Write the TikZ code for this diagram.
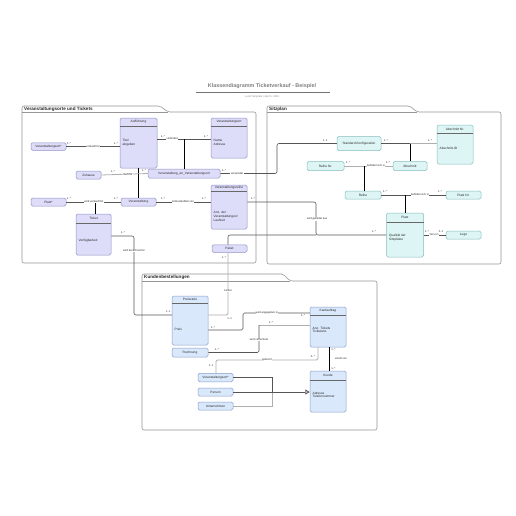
\documentclass[tikz,border=0pt]{standalone}
\usepackage{fontspec}
\setmainfont{Liberation Sans}
\usetikzlibrary{arrows.meta}
\definecolor{lavf}{RGB}{221,221,250}
\definecolor{lavd}{RGB}{145,145,195}
\definecolor{cyf}{RGB}{221,245,245}
\definecolor{cyd}{RGB}{135,190,190}
\definecolor{blf}{RGB}{218,232,252}
\definecolor{bld}{RGB}{135,160,200}
\definecolor{pan}{RGB}{150,150,150}
\definecolor{cdark}{RGB}{85,85,85}
\definecolor{clight}{RGB}{175,175,175}
\definecolor{txt}{RGB}{40,40,40}
\newcommand{\fnode}{\fontsize{3.2}{3.9}\selectfont}
\newcommand{\flab}{\fontsize{2.7}{3.2}\selectfont}
\begin{document}
\begin{tikzpicture}[x=1pt,y=-1pt,
  lcls/.style={draw=lavd,fill=lavf,rounded corners=1.5,line width=0.5,inner sep=0,font=\fnode,text=txt},
  ccls/.style={draw=cyd,fill=cyf,rounded corners=1.5,line width=0.5,inner sep=0,font=\fnode,text=txt},
  bcls/.style={draw=bld,fill=blf,rounded corners=1.5,line width=0.5,inner sep=0,font=\fnode,text=txt},
  ctitle/.style={font=\fnode,text=txt,inner sep=0},
  attr/.style={font=\fnode,text=txt,inner sep=0,anchor=north west,align=left},
  sepl/.style={line width=0.7,draw=txt!70},
  conn/.style={draw=cdark,line width=0.6},
  connl/.style={draw=clight,line width=1.1},
  stem/.style={draw=black,line width=0.9},
  lab/.style={font=\flab,text=txt,fill=white,inner sep=0.4},
  mult/.style={font=\flab,text=txt,inner sep=0},
  panel/.style={draw=pan,fill=white,line width=0.6,rounded corners=2},
  ptitle/.style={font=\fontsize{4.6}{5}\selectfont\bfseries,text=txt,anchor=west,inner sep=0}
]
\useasboundingbox[fill=white] (0,0) rectangle (516,516);

% title
\node[font=\fontsize{5.4}{6}\selectfont\bfseries,text=black!50,inner sep=0] (title) at (262,86.5) {Klassendiagramm Ticketverkauf - Beispiel};
\draw[draw=black!55,line width=0.5] (196,92) -- (330,92);
\node[font=\fontsize{2.6}{3}\selectfont,text=black!45,inner sep=0] (sub) at (262,96.5) {Lucid Template \textbar{} April 6, 2018};

% panels
\draw[panel] (22,112) -- (22,106) -- (160,106) -- (168,112) -- (256,112) -- (256,263) -- (22,263) -- cycle;
\draw[pan,line width=0.6] (22,112) -- (168,112);
\node[ptitle] (p1) at (24,109) {Veranstaltungsorte und Tickets};

\draw[panel] (267,112) -- (267,106) -- (410,106) -- (417,112) -- (501,112) -- (501,264) -- (267,264) -- cycle;
\draw[pan,line width=0.6] (267,112) -- (417,112);
\node[ptitle] (p2) at (269,109) {Sitzplan};

\draw[panel] (142,281) -- (142,274) -- (283,274) -- (290,281) -- (377,281) -- (377,430) -- (142,430) -- cycle;
\draw[pan,line width=0.6] (142,281) -- (290,281);
\node[ptitle] (p3) at (144,277.5) {Kundenbestellungen};

% ---------- left panel nodes
\node[lcls,minimum width=37,minimum height=50] (auff) at (138.5,143) {};
\node[ctitle] (auff-t) at (138.5,122) {Aufführung};
\draw[sepl] (120,126) -- (157,126);
\node[attr] (auff-a) at (122.5,139) {Titel\\abgeben};

\node[lcls,minimum width=36,minimum height=40] (vort) at (229,138) {};
\node[ctitle] (vort-t) at (229,122) {Veranstaltungsort};
\draw[sepl] (211,126) -- (247,126);
\node[attr] (vort-a) at (213.5,139) {Name\\Adresse};

\node[lcls,minimum width=35,minimum height=7.5] (vos) at (48.5,146.5) {Veranstaltungsort*};
\node[lcls,minimum width=25,minimum height=8] (zuh) at (88.5,175) {Zuhause};
\node[lcls,minimum width=72,minimum height=9] (vav) at (184,173.5) {Veranstaltung\_an\_Veranstaltungsort};
\node[lcls,minimum width=35,minimum height=8] (veran) at (138.5,202) {Veranstaltung};
\node[lcls,minimum width=35,minimum height=8] (platzs) at (48.5,202) {Platz*};

\node[lcls,minimum width=35,minimum height=41] (ticket) at (93.5,234.5) {};
\node[ctitle] (ticket-t) at (93.5,218.5) {Ticket};
\draw[sepl] (76,223) -- (111,223);
\node[attr] (ticket-a) at (78.5,238.5) {Verfügbarkeit};

\node[lcls,minimum width=36,minimum height=44] (vreihe) at (229,207) {};
\node[ctitle] (vreihe-t) at (229,188) {Veranstaltungsreihe};
\draw[sepl] (211,191.5) -- (247,191.5);
\node[attr] (vreihe-a) at (213.5,211) {Anz. der\\Veranstaltungen/\\Laufzeit};

\node[lcls,minimum width=35,minimum height=7.5] (paket) at (229.5,248.5) {Paket};

% ---------- right panel nodes
\node[ccls,minimum width=44,minimum height=14] (stdk) at (359,143.5) {Standard-Konfiguration};
\node[ccls,minimum width=36,minimum height=39] (abnr) at (455,144.5) {};
\node[ctitle] (abnr-t) at (455,129) {Abschnitt Nr.};
\draw[sepl] (437,133) -- (473,133);
\node[attr] (abnr-a) at (439.5,146.5) {Abschnitt-ID};
\node[ccls,minimum width=37,minimum height=9] (reihenr) at (325.5,166) {Reihe Nr.};
\node[ccls,minimum width=34,minimum height=9] (absch) at (410,166) {Abschnitt};
\node[ccls,minimum width=36,minimum height=8] (reihe) at (363,195) {Reihe};
\node[ccls,minimum width=35,minimum height=8] (platznr) at (463.5,195) {Platz Nr.};
\node[ccls,minimum width=37,minimum height=44] (platz) at (405,235) {};
\node[ctitle] (platz-t) at (405,217.5) {Platz};
\draw[sepl] (386.5,222) -- (423.5,222);
\node[attr] (platz-a) at (389,234) {Qualität der\\Sitzplätze};
\node[ccls,minimum width=35,minimum height=8] (loge) at (463.5,235) {Loge};

% ---------- bottom panel nodes
\node[bcls,minimum width=36,minimum height=49] (preis) at (190,320.5) {};
\node[ctitle] (preis-t) at (190,299.5) {Preisstufe};
\draw[sepl] (172,303) -- (208,303);
\node[attr] (preis-a) at (174.5,327.5) {Preis};

\node[bcls,minimum width=36,minimum height=40] (kauf) at (328,327) {};
\node[ctitle] (kauf-t) at (328,311) {Kaufauftrag};
\draw[sepl] (310,315) -- (346,315);
\node[attr] (kauf-a) at (312.5,326.5) {Anz. Tickets\\Ticketanz.};

\node[bcls,minimum width=36,minimum height=9] (rech) at (190,352.5) {Rechnung};

\node[bcls,minimum width=36,minimum height=41] (kunde) at (328,391.5) {};
\node[ctitle] (kunde-t) at (328,375.5) {Kunde};
\draw[sepl] (310,380) -- (346,380);
\node[attr] (kunde-a) at (312.5,391.5) {Adresse\\Telefonnummer};

\node[bcls,minimum width=35,minimum height=8.5] (vos2) at (215.5,377.5) {Veranstaltungsort*};
\node[bcls,minimum width=35,minimum height=8] (person) at (215.5,392) {Person};
\node[bcls,minimum width=35,minimum height=8] (untern) at (215.5,406) {Unternehmen};

% ---------- connectors left
\draw[conn] (vos.east) -- (auff.west |- vos.east);
\node[mult] (m1) at (69,144) {1..*};
\node[lab] (l1) at (93,146.5) {verkauft für};
\node[mult] (m2) at (116,144) {1..*};

\coordinate (j1) at (184,139);
\draw[conn] (auff.east |- j1) -- (vort.west |- j1);
\draw[stem] (j1) -- (vav.north);
\node[mult] (m3) at (163,136.5) {1..*};
\node[lab] (l2) at (172,139) {verbindet};
\node[mult] (m4) at (206,136.5) {1..*};

\draw[stem] (auff.south) -- (veran.north);

\draw[connl,line width=0.8] (zuh.east) -- (vav.west);
\node[mult] (m5) at (113,172) {1..*};
\node[lab] (l3) at (128,175) {läuft für};
\node[mult] (m6) at (144,170.5) {1..*};

\coordinate (j2) at (95,202);
\draw[conn] (platzs.east) -- (veran.west);
\draw[stem] (j2) -- (ticket.north -| j2);
\node[mult] (m7) at (69,199) {1..*};
\node[lab] (l4) at (94,202) {wird verkauft für};
\node[mult] (m8) at (116,199) {1..*};

\draw[conn] (veran.east) -- (vreihe.west |- veran.east);
\node[mult] (m9) at (163,199) {1..*};
\node[lab] (l5) at (183,202) {ist Bestandteil von};
\node[mult] (m10) at (204,199) {1..*};

\draw[conn,rounded corners=2] (vav.east) -- (277,173.5) -- (277,143.5) -- (stdk.west);
\node[mult] (m11) at (224,171) {1..*};
\node[lab] (l6) at (237,173.5) {verwendet};
\node[mult] (m12) at (325,140.5) {1..1};

\draw[conn,rounded corners=2] (vreihe.east |- 0,202) -- (316,202) -- (316,235) -- (platz.west);
\draw[conn,rounded corners=2] (paket.north -| 228,0) -- (228,235) -- (316,235);
\node[mult] (m13) at (253,199) {1..*};
\node[lab] (l7) at (317,219) {wird gebildet aus};
\node[mult] (m14) at (374,231.5) {1..*};

\draw[conn,rounded corners=2] (ticket.east |- 0,236) -- (134,236) -- (134,315) -- (preis.west |- 0,315);
\node[mult] (m15) at (123,232.5) {1..*};
\node[lab] (l8) at (134,251) {wird berechnet für};
\node[mult] (m16) at (168,311.5) {1..1};

\draw[connl,line width=0.9,rounded corners=1.5] (paket.south -| 228,0) -- (228,315) -- (preis.east |- 0,315);
\node[mult] (m17) at (224,257.5) {1..*};
\node[lab] (l9) at (228,291) {kostet};
\node[mult] (m26) at (229.5,318.5) {1..1};

% ---------- connectors right
\coordinate (j3) at (410,143.5);
\draw[conn] (stdk.east) -- (j3);
\draw[connl] (j3) -- (abnr.west |- j3);
\draw[stem] (j3) -- (absch.north);
\node[mult] (m18) at (386,140.5) {1..*};
\node[mult] (m19) at (430,140.5) {1..*};

\coordinate (j4) at (364,166);
\draw[connl,line width=0.8] (reihenr.east) -- (absch.west);
\draw[stem] (j4) -- (reihe.north -| j4);
\node[mult] (m20) at (348,162.5) {1..*};
\node[lab] (l10) at (376,166) {befindet sich in};
\node[mult] (m21) at (388,162.5) {1..*};

\coordinate (j5) at (405,195);
\draw[conn] (reihe.east) -- (platznr.west);
\draw[stem] (j5) -- (platz.north);
\node[mult] (m22) at (385,192) {1..*};
\node[lab] (l11) at (420,195) {befindet sich in};
\node[mult] (m23) at (440,192) {1..*};

\draw[conn] (platz.east) -- (loge.west);
\node[mult] (m24) at (427,232) {1..*};
\node[lab] (l12) at (434,235) {Teil von};
\node[mult] (m25) at (441,232) {0..1};

% ---------- connectors bottom
\draw[conn,rounded corners=1.5] (preis.east |- 0,330) -- (243,330) -- (243,313) -- (kauf.west |- 0,313);
\node[mult] (m28) at (213,327.5) {1..*};
\node[lab] (l13) at (267,313) {wird angegeben in};
\node[mult] (m27) at (303,316) {1..*};

\draw[connl,line width=0.9] (259,325) -- (kauf.west |- 0,325);
\draw[conn,rounded corners=1.5] (rech.east) -- (259,352.5) -- (259,325);
\node[mult] (m29) at (271,322.5) {1..*};
\node[mult] (m30) at (217,349.5) {1..*};
\node[lab] (l14) at (259,340) {wird verrechnet};

\draw[stem] (kauf.south -| 329,0) -- (kunde.north -| 329,0);
\node[mult] (m31) at (333.5,350) {1..*};
\node[lab] (l15) at (341,359) {erteilt von};
\node[mult] (m32) at (333.5,368.5) {1..*};

\draw[connl,line width=0.9,rounded corners=1.5] (kauf.south -| 318,0) -- (318,360) -- (216,360) -- (vos2.north -| 216,0);
\node[mult] (m33) at (313,356.5) {0..*};
\node[lab] (l16) at (267,360) {gebucht};
\node[mult] (m34) at (211,366) {1..1};

\coordinate (g) at (272,392);
\draw[conn] (vos2.east) -- (272,377.5) -- (g);
\draw[conn] (person.east) -- (g);
\draw[connl,line width=0.8] (untern.east) -- (272,406) -- (g);
\draw[conn,line width=0.9,-{Triangle[open,length=4.5,width=5]}] (g) -- (kunde.west |- g);
\end{tikzpicture}
\end{document}
